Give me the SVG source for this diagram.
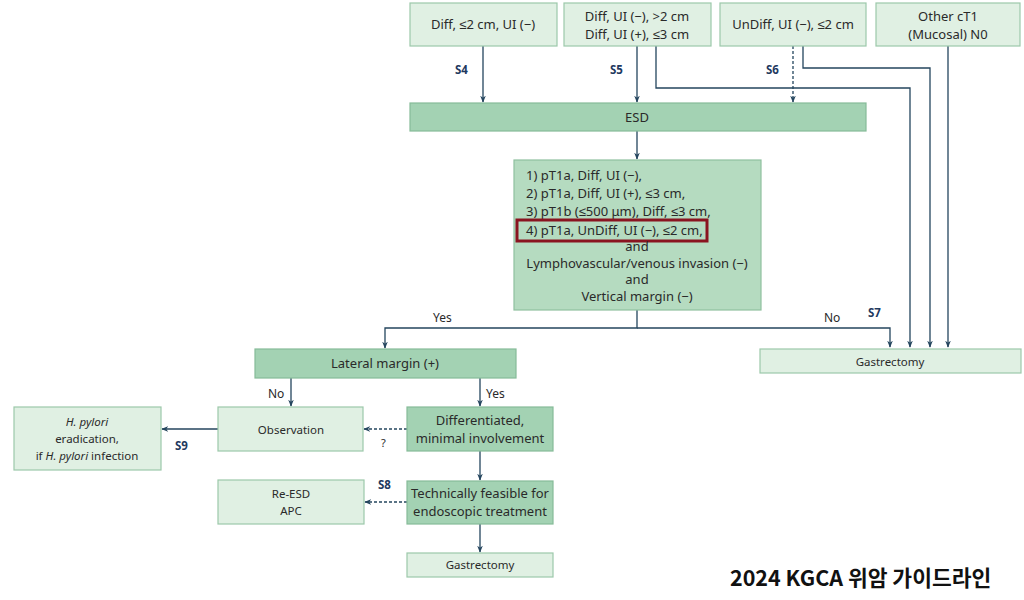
<svg xmlns="http://www.w3.org/2000/svg" width="1024" height="600" viewBox="0 0 1024 600">
<style>
.lt{fill:#e0f0e3;stroke:#9cc8aa;stroke-width:1.2}
.md{fill:#b5dbc0;stroke:#8fc09f;stroke-width:1.2}
.dk{fill:#a3d2b3;stroke:#86bb98;stroke-width:1.2}
text{font-family:"Noto Sans","Liberation Sans",sans-serif;font-size:13px;fill:#2a2a2a}
.c{text-anchor:middle}
.s{font-weight:bold;font-size:11.5px;fill:#1f3a5f}
.ln{fill:none;stroke:#24455e;stroke-width:1.3}
.ds{stroke-dasharray:3,2}
</style>
<defs>
<marker id="ah" viewBox="0 0 10 10" refX="9" refY="5" markerWidth="7" markerHeight="7" orient="auto-start-reverse" markerUnits="userSpaceOnUse">
<path d="M0,1 L10,5 L0,9 L3,5 Z" fill="#24455e"/>
</marker>
</defs>
<rect width="1024" height="600" fill="#ffffff"/>

<g id="connectors">
<path class="ln" d="M483,46 V102" marker-end="url(#ah)"/>
<path class="ln" d="M637,46 V102" marker-end="url(#ah)"/>
<path class="ln ds" d="M793,46 V102" marker-end="url(#ah)"/>
<path class="ln" d="M656,46 V88 H910 V347" marker-end="url(#ah)"/>
<path class="ln" d="M803,46 V68 H930 V347" marker-end="url(#ah)"/>
<path class="ln" d="M948,46 V347" marker-end="url(#ah)"/>
<path class="ln" d="M637,131 V159" marker-end="url(#ah)"/>
<path class="ln" d="M637,310 V328 H385 V348" marker-end="url(#ah)"/>
<path class="ln" d="M637,328 H890 V347" marker-end="url(#ah)"/>
<path class="ln" d="M291,378 V406" marker-end="url(#ah)"/>
<path class="ln" d="M480,378 V406" marker-end="url(#ah)"/>
<path class="ln ds" d="M407,429 H364" marker-end="url(#ah)"/>
<path class="ln" d="M218,429 H162" marker-end="url(#ah)"/>
<path class="ln" d="M480,451 V480" marker-end="url(#ah)"/>
<path class="ln ds" d="M407,502 H365" marker-end="url(#ah)"/>
<path class="ln" d="M480,524 V552" marker-end="url(#ah)"/>
<text class="s" x="455" y="74">S4</text>
<text class="s" x="610" y="74">S5</text>
<text class="s" x="766" y="74">S6</text>
<text x="433" y="322" style="font-size:12px">Yes</text>
<text x="824" y="322" style="font-size:12px">No</text>
<text class="s" x="868" y="317">S7</text>
<text x="268" y="398" style="font-size:12px">No</text>
<text x="486" y="398" style="font-size:12px">Yes</text>
<text x="381" y="447" style="font-size:11px">?</text>
<text class="s" x="175" y="450">S9</text>
<text class="s" x="378" y="489">S8</text>
</g>

<g id="n1"><rect class="lt" x="410" y="3" width="147" height="43"/><text class="c" x="483" y="29">Diff, ≤2 cm, UI (−)</text></g>
<g id="n2"><rect class="lt" x="564" y="3" width="147" height="43"/><text class="c" x="637" y="21">Diff, UI (−), &gt;2 cm</text><text class="c" x="637" y="39">Diff, UI (+), ≤3 cm</text></g>
<g id="n3"><rect class="lt" x="720" y="3" width="146" height="43"/><text class="c" x="793" y="29">UnDiff, UI (−), ≤2 cm</text></g>
<g id="n4"><rect class="lt" x="876" y="3" width="144" height="43"/><text class="c" x="948" y="21">Other cT1</text><text class="c" x="948" y="39">(Mucosal) N0</text></g>
<g id="esd"><rect class="dk" x="410" y="103" width="456" height="28"/><text class="c" x="637" y="122">ESD</text></g>
<g id="criteria"><rect class="md" x="514" y="160" width="247" height="150"/>
<text x="526" y="180">1) pT1a, Diff, UI (−),</text>
<text x="526" y="198">2) pT1a, Diff, UI (+), ≤3 cm,</text>
<text x="526" y="216">3) pT1b (≤500 μm), Diff, ≤3 cm,</text>
<text x="526" y="235">4) pT1a, UnDiff, UI (−), ≤2 cm,</text>
<rect x="517" y="220" width="190" height="21" fill="none" stroke="#8a1420" stroke-width="3"/>
<text class="c" x="637" y="251">and</text>
<text class="c" x="637" y="268">Lymphovascular/venous invasion (−)</text>
<text class="c" x="637" y="284">and</text>
<text class="c" x="637" y="301">Vertical margin (−)</text>
</g>
<g id="gastR"><rect class="lt" x="760" y="349" width="261" height="24"/><text class="c" x="890" y="366" style="font-size:11.5px">Gastrectomy</text></g>
<g id="lateral"><rect class="dk" x="255" y="349" width="261" height="29"/><text class="c" x="385" y="368">Lateral margin (+)</text></g>
<g id="obs"><rect class="lt" x="218" y="407" width="145" height="44"/><text class="c" x="291" y="434" style="font-size:11.5px">Observation</text></g>
<g id="diffmin"><rect class="dk" x="407" y="407" width="146" height="44"/><text class="c" x="480" y="425">Differentiated,</text><text class="c" x="480" y="443">minimal involvement</text></g>
<g id="hp"><rect class="lt" x="14" y="407" width="147" height="63"/>
<text class="c" x="87" y="426" style="font-size:11.5px;font-style:italic">H. pylori</text>
<text class="c" x="87" y="443" style="font-size:11.5px">eradication,</text>
<text class="c" x="87" y="460" style="font-size:11.5px">if <tspan font-style="italic">H. pylori</tspan> infection</text>
</g>
<g id="tech"><rect class="dk" x="407" y="481" width="146" height="43"/><text class="c" x="480" y="498">Technically feasible for</text><text class="c" x="480" y="516">endoscopic treatment</text></g>
<g id="reesd"><rect class="lt" x="218" y="480" width="146" height="44"/><text class="c" x="291" y="498" style="font-size:11.5px">Re-ESD</text><text class="c" x="291" y="515" style="font-size:11.5px">APC</text></g>
<g id="gastB"><rect class="lt" x="407" y="553" width="146" height="24"/><text class="c" x="480" y="569" style="font-size:11.5px">Gastrectomy</text></g>
<text x="730" y="586" style="font-family:'Noto Sans CJK KR','Noto Sans',sans-serif;font-size:21.5px;font-weight:bold;fill:#111">2024 KGCA 위암 가이드라인</text>
</svg>
